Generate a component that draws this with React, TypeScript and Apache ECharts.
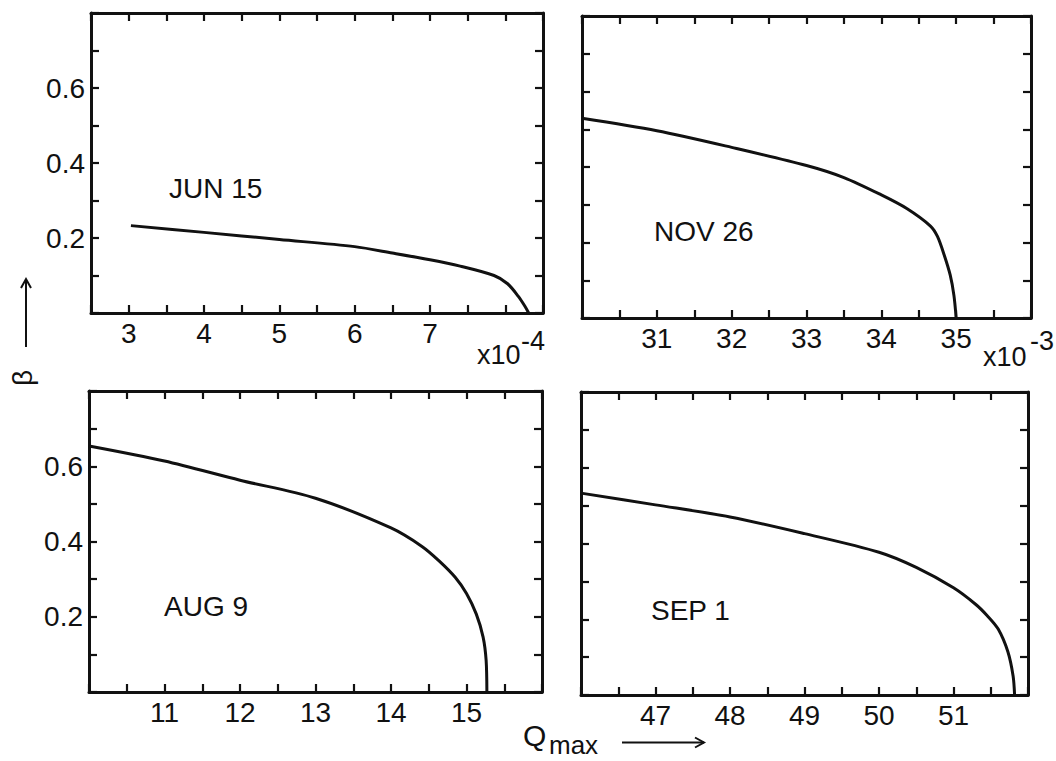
import React, { useEffect, useRef } from "react";
import * as echarts from "echarts";

// Panel 1: JUN 15 (x10^-4)
const junX = [3.03, 4, 5, 6, 6.5, 7, 7.4, 7.85, 8.03, 8.17, 8.26, 8.31];
const junY = [0.233, 0.215, 0.196, 0.177, 0.16, 0.142, 0.125, 0.1, 0.078, 0.045, 0.018, 0.0];
// Panel 2: NOV 26 (x10^-3)
const novX = [30.0, 31, 32, 33, 33.5, 34, 34.34, 34.66, 34.75, 34.84, 34.92, 34.97, 35.0];
const novY = [0.529, 0.496, 0.452, 0.404, 0.372, 0.326, 0.29, 0.243, 0.216, 0.167, 0.114, 0.06, 0.0];
// Panel 3: AUG 9
const augX = [10, 11, 12, 13, 14, 14.41, 14.64, 14.85, 15, 15.13, 15.22, 15.26, 15.27];
const augY = [0.654, 0.614, 0.563, 0.515, 0.436, 0.387, 0.348, 0.305, 0.262, 0.207, 0.146, 0.084, 0.0];
// Panel 4: SEP 1
const sepX = [46, 47, 48, 49, 50, 50.5, 51, 51.3, 51.45, 51.6, 51.73, 51.8, 51.82];
const sepY = [0.533, 0.502, 0.47, 0.426, 0.377, 0.337, 0.283, 0.239, 0.21, 0.174, 0.114, 0.05, 0.0];

const panelNames = ["JUN 15", "NOV 26", "AUG 9", "SEP 1"];
const xMins = [2.5, 30, 10, 46];
const xMaxs = [8.5, 36, 16, 52];
const xTickLabels = [
  [3, 4, 5, 6, 7],
  [31, 32, 33, 34, 35],
  [11, 12, 13, 14, 15],
  [47, 48, 49, 50, 51],
];
const yTickLabels = [0.2, 0.4, 0.6];
const yMin = 0;
const yMax = 0.8;

const FONT = "'Liberation Sans', Arial, sans-serif";
const INK = "#111";

export default function App() {
  const ref = useRef<HTMLDivElement>(null);
  useEffect(() => {
    if (!ref.current) return;
    const chart = echarts.init(ref.current, null, { renderer: "svg" });

    const grids = [
      { left: 91, top: 13, width: 452, height: 300 },
      { left: 582, top: 16, width: 449, height: 302 },
      { left: 89, top: 391, width: 453, height: 301 },
      { left: 581, top: 392, width: 447, height: 303 },
    ];
    const seriesData = [
      junX.map((x, i) => [x, junY[i]]),
      novX.map((x, i) => [x, novY[i]]),
      augX.map((x, i) => [x, augY[i]]),
      sepX.map((x, i) => [x, sepY[i]]),
    ];

    const axisLine = { show: true, onZero: false, lineStyle: { color: INK, width: 3 } };
    const axisTick = { show: true, inside: true, length: 8, lineStyle: { color: INK, width: 2.2 } };

    const xAxes: any[] = [];
    const yAxes: any[] = [];
    const series: any[] = [];
    grids.forEach((g, i) => {
      const labels = xTickLabels[i];
      xAxes.push({
        type: "value",
        gridIndex: i,
        position: "bottom",
        min: xMins[i],
        max: xMaxs[i],
        interval: 0.5,
        axisLine,
        axisTick,
        splitLine: { show: false },
        axisLabel: {
          show: true,
          margin: 6,
          color: INK,
          fontSize: 28,
          fontFamily: FONT,
          formatter: (v: number) =>
            labels.some((l) => Math.abs(l - v) < 1e-6) ? String(Math.round(v)) : "",
        },
      });
      xAxes.push({
        type: "value",
        gridIndex: i,
        position: "top",
        min: xMins[i],
        max: xMaxs[i],
        interval: 0.5,
        axisLine,
        axisTick,
        splitLine: { show: false },
        axisLabel: { show: false },
      });
      yAxes.push({
        type: "value",
        gridIndex: i,
        position: "left",
        min: yMin,
        max: yMax,
        interval: 0.1,
        axisLine,
        axisTick,
        splitLine: { show: false },
        axisLabel: {
          show: i % 2 === 0,
          margin: 6,
          color: INK,
          fontSize: 28,
          fontFamily: FONT,
          formatter: (v: number) => {
            const hit = yTickLabels.find((l) => Math.abs(l - v) < 1e-6);
            return hit !== undefined ? hit.toFixed(1) : "";
          },
        },
      });
      yAxes.push({
        type: "value",
        gridIndex: i,
        position: "right",
        min: yMin,
        max: yMax,
        interval: 0.1,
        axisLine,
        axisTick,
        splitLine: { show: false },
        axisLabel: { show: false },
      });
      series.push({
        type: "line",
        name: panelNames[i],
        xAxisIndex: 2 * i,
        yAxisIndex: 2 * i,
        data: seriesData[i],
        showSymbol: false,
        symbol: "none",
        smooth: 0.3,
        lineStyle: { color: INK, width: 3 },
      });
    });

    const txt = (x: number, y: number, text: string, size = 28, align = "left", extra: any = {}) => ({
      type: "text",
      x,
      y,
      style: {
        text,
        fill: INK,
        fontSize: size,
        fontFamily: FONT,
        align,
        verticalAlign: "middle",
      },
      ...extra,
    });

    const graphic: any[] = [
      txt(169, 188, panelNames[0]),
      txt(654, 231, panelNames[1]),
      txt(164, 606, panelNames[2]),
      txt(651, 610, panelNames[3]),
      txt(477, 355, "x10", 27),
      txt(521, 341, "-4", 27),
      txt(983, 357, "x10", 27),
      txt(1030, 341, "-3", 27),
      txt(523, 735, "Q", 30),
      txt(549, 745, "max", 26),
      txt(22, 378, "β", 28, "center", { rotation: Math.PI / 2 }),
      {
        type: "line",
        shape: { x1: 622, y1: 742.5, x2: 704, y2: 742.5 },
        style: { stroke: INK, lineWidth: 2 },
      },
      {
        type: "polyline",
        shape: { points: [[695, 737.5], [704, 742.5], [695, 747.5]] },
        style: { stroke: INK, lineWidth: 2, fill: "none" },
      },
      {
        type: "line",
        shape: { x1: 26, y1: 347, x2: 26, y2: 279 },
        style: { stroke: INK, lineWidth: 2 },
      },
      {
        type: "polyline",
        shape: { points: [[21, 288], [26, 279], [31, 288]] },
        style: { stroke: INK, lineWidth: 2, fill: "none" },
      },
    ];

    chart.setOption({
      animation: false,
      backgroundColor: "#fff",
      grid: grids.map((g) => ({ ...g, containLabel: false })),
      xAxis: xAxes,
      yAxis: yAxes,
      series,
      graphic,
    });
    return () => chart.dispose();
  }, []);
  return (
    <div
      ref={ref}
      style={{ position: "fixed", left: 0, top: 0, width: 1056, height: 761, background: "#fff" }}
    />
  );
}
